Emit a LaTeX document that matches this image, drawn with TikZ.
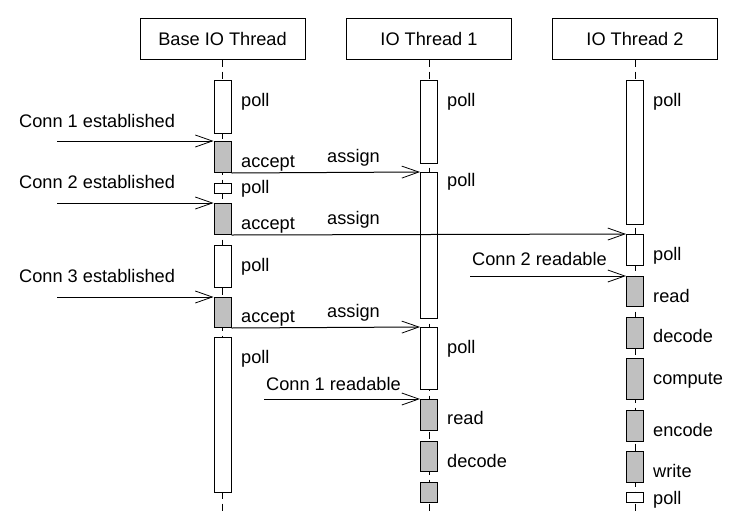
\documentclass[tikz,border=0pt]{standalone}
\usepackage{fontspec}
\setmainfont{Liberation Sans}
\usetikzlibrary{arrows.meta}
\definecolor{silver}{RGB}{192,192,192}
\begin{document}
\begin{tikzpicture}[x=1pt,y=-1pt,
  font=\fontsize{18.2}{20}\selectfont,
  header/.style={draw,line width=1pt,minimum width=165pt,minimum height=41pt,inner sep=0},
  life/.style={line width=1pt,dash pattern=on 7pt off 5pt},
  wbox/.style={draw,line width=1pt,fill=white,minimum width=17pt,inner sep=0,anchor=north},
  gbox/.style={wbox,fill=silver},
  lbl/.style={anchor=base west,inner sep=0},
  msg/.style={line width=1pt,-{Straight Barb[length=17pt,width=12pt,line width=0.8pt]}}]
\useasboundingbox (0,0) rectangle (740,523);
% headers
\node[header] (hb) at (222.5,38.5) {Base IO Thread};
\node[header] (h1) at (429,38.5) {IO Thread 1};
\node[header] (h2) at (635,38.5) {IO Thread 2};
\coordinate (eb) at (222.5,513);
\coordinate (e1) at (429,513);
\coordinate (e2) at (635,513);
\draw[life] (hb.south) -- (eb);
\draw[life] (h1.south) -- (e1);
\draw[life] (h2.south) -- (e2);
% base thread activations
\node[wbox,minimum height=53pt] (b1) at (222.5,80) {};
\node[gbox,minimum height=31pt] (b2) at (222.5,141) {};
\node[wbox,minimum height=10pt] (b3) at (222.5,183) {};
\node[gbox,minimum height=31pt] (b4) at (222.5,203) {};
\node[wbox,minimum height=42pt] (b5) at (222.5,245) {};
\node[gbox,minimum height=30pt] (b6) at (222.5,297) {};
\node[wbox,minimum height=155pt] (b7) at (222.5,337) {};
% IO thread 1 activations
\node[wbox,minimum height=83pt] (p1) at (429,80) {};
\node[wbox,minimum height=146pt] (p2) at (429,172) {};
\node[wbox,minimum height=62pt] (p3) at (429,327) {};
\node[gbox,minimum height=31pt] (p4) at (429,399) {};
\node[gbox,minimum height=30pt] (p5) at (429,441) {};
\node[gbox,minimum height=20pt] (p6) at (429,482) {};
% IO thread 2 activations
\node[wbox,minimum height=144pt] (q1) at (635,80) {};
\node[wbox,minimum height=31pt] (q2) at (635,234) {};
\node[gbox,minimum height=30pt] (q3) at (635,276) {};
\node[gbox,minimum height=31pt] (q4) at (635,317) {};
\node[gbox,minimum height=41pt] (q5) at (635,358) {};
\node[gbox,minimum height=31pt] (q6) at (635,410) {};
\node[gbox,minimum height=31pt] (q7) at (635,451) {};
\node[wbox,minimum height=10pt] (q8) at (635,492) {};
% incoming events
\coordinate (c1) at (57,141);
\coordinate (c2) at (57,203);
\coordinate (c3) at (57,297);
\coordinate (r2) at (470,276);
\coordinate (r1) at (264,399);
\draw[msg] (c1) -- (b2.north west);
\draw[msg] (c2) -- (b4.north west);
\draw[msg] (c3) -- (b6.north west);
\draw[msg] (r2) -- (q3.north west);
\draw[msg] (r1) -- (p4.north west);
% assign messages
\draw[msg] (b2.south east) -- (p2.north west);
\draw[msg] (b4.south east) -- (q2.north west);
\draw[msg] (b6.south east) -- (p3.north west);
% labels
\node[lbl] (t1) at (19,127) {Conn 1 established};
\node[lbl] (t2) at (19,188) {Conn 2 established};
\node[lbl] (t3) at (19,282) {Conn 3 established};
\node[lbl] (t4) at (472,265) {Conn 2 readable};
\node[lbl] (t5) at (266,390) {Conn 1 readable};
\node[lbl] (a1) at (327,162) {assign};
\node[lbl] (a2) at (327,224) {assign};
\node[lbl] (a3) at (327,317) {assign};
\node[lbl] (lb1) at (241,106) {poll};
\node[lbl] (lb2) at (241,167) {accept};
\node[lbl] (lb3) at (241,193) {poll};
\node[lbl] (lb4) at (241,229) {accept};
\node[lbl] (lb5) at (241,271) {poll};
\node[lbl] (lb6) at (241,322) {accept};
\node[lbl] (lb7) at (241,363) {poll};
\node[lbl] (l11) at (447,106) {poll};
\node[lbl] (l12) at (447,186) {poll};
\node[lbl] (l13) at (447,353) {poll};
\node[lbl] (l14) at (447,424) {read};
\node[lbl] (l15) at (447,467) {decode};
\node[lbl] (l21) at (653,106) {poll};
\node[lbl] (l22) at (653,260) {poll};
\node[lbl] (l23) at (653,302) {read};
\node[lbl] (l24) at (653,342) {decode};
\node[lbl] (l25) at (653,384) {compute};
\node[lbl] (l26) at (653,436) {encode};
\node[lbl] (l27) at (653,477) {write};
\node[lbl] (l28) at (653,504) {poll};
\end{tikzpicture}
\end{document}
